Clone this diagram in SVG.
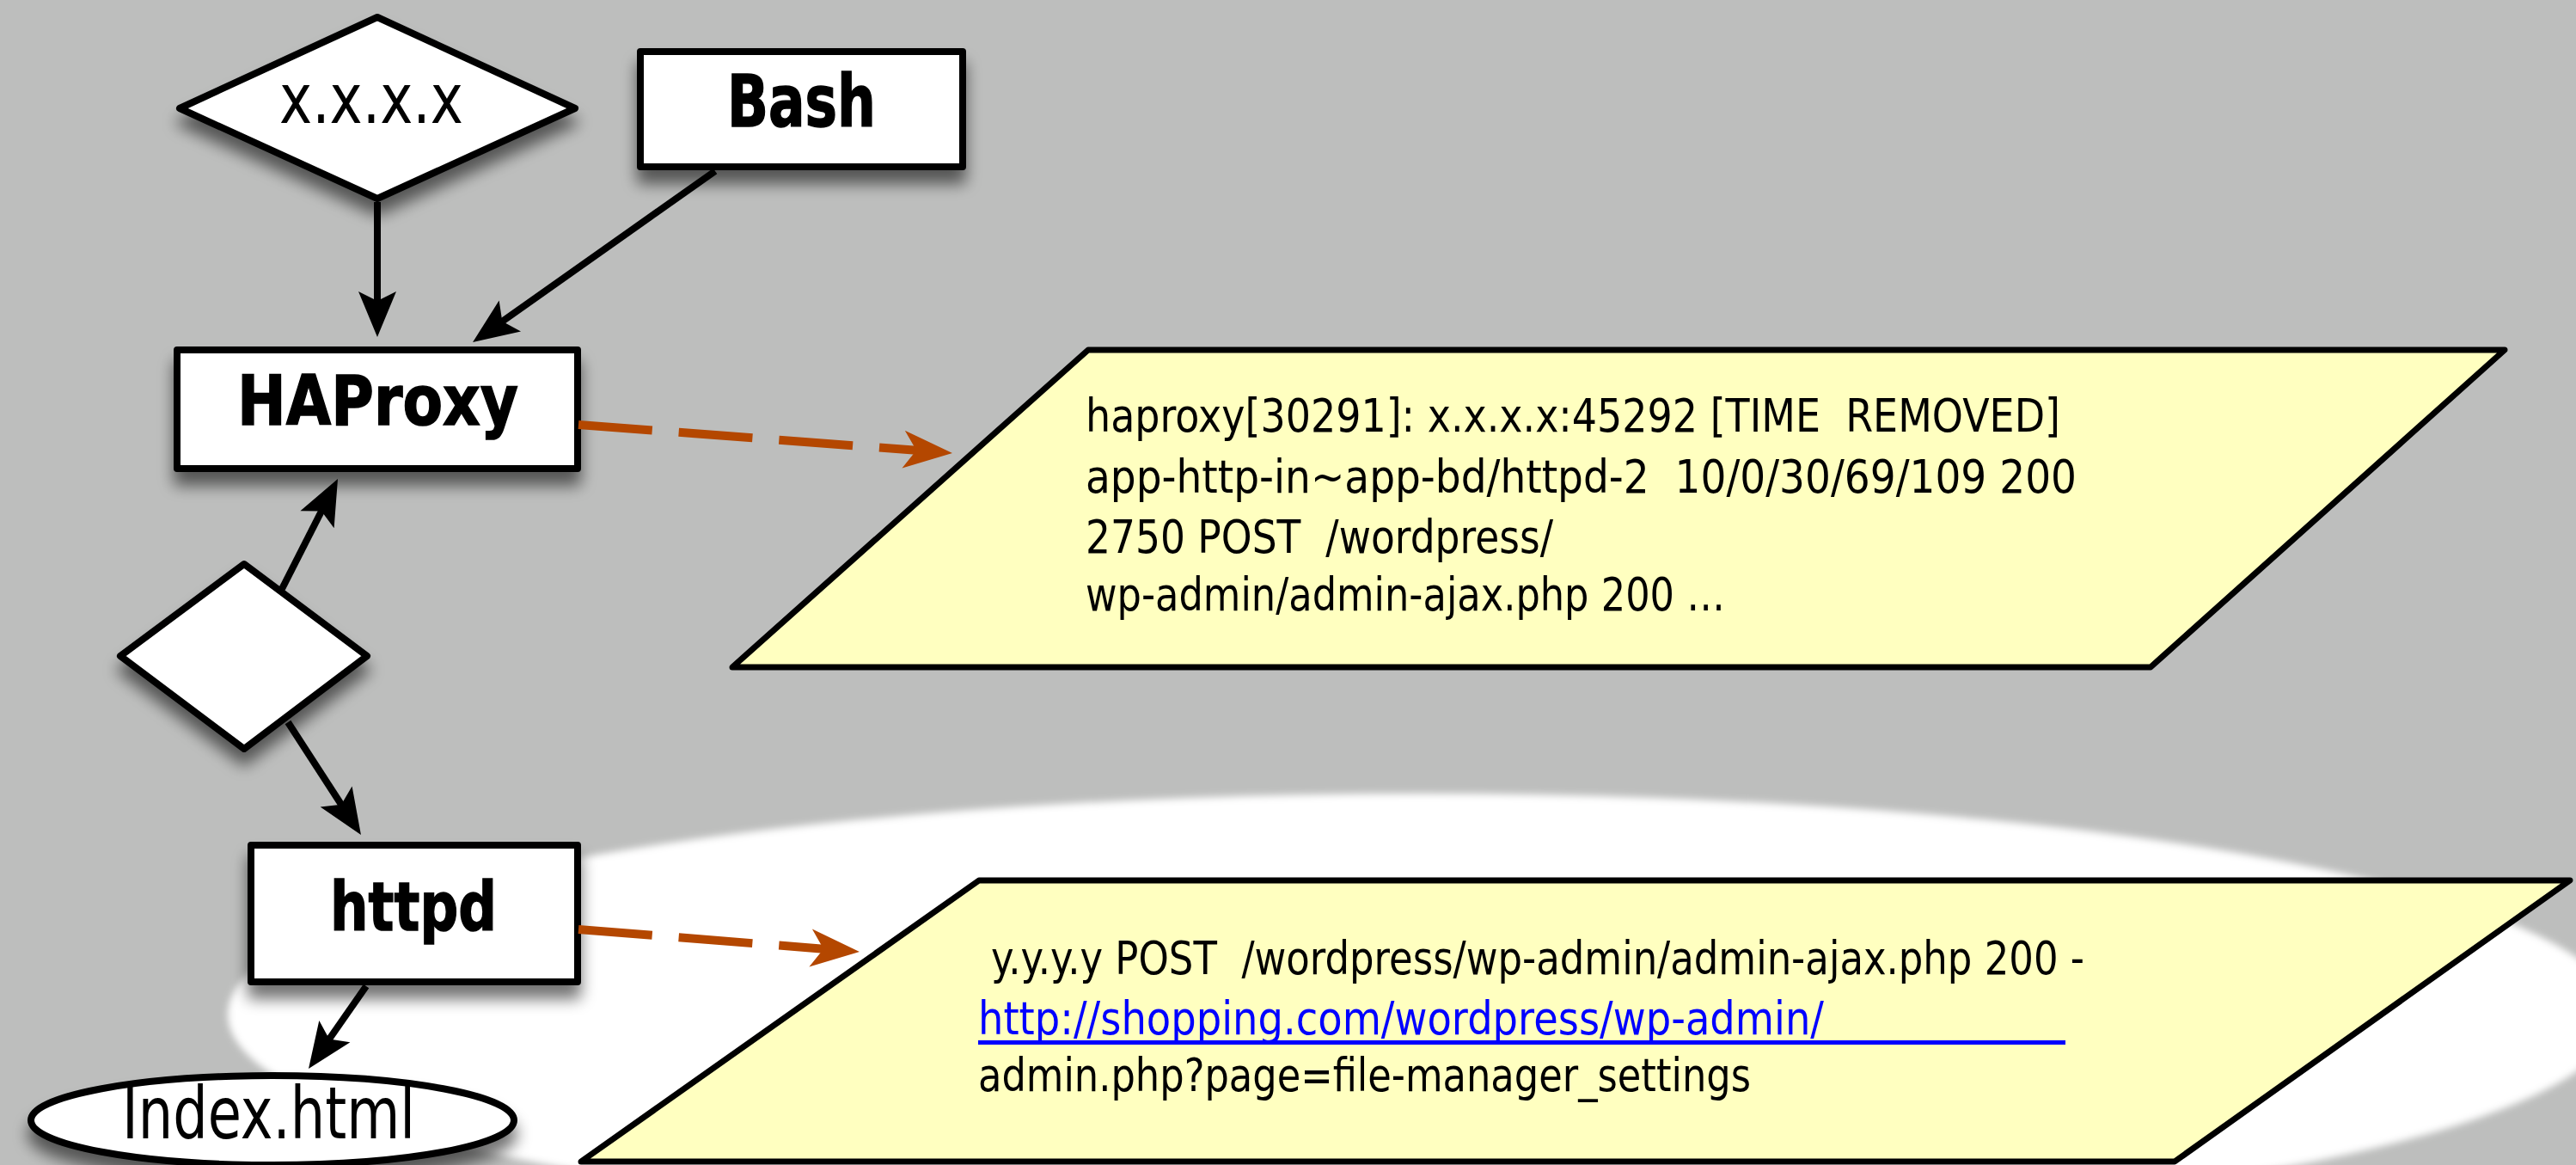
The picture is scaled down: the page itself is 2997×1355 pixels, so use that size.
<svg xmlns="http://www.w3.org/2000/svg" width="2997" height="1355" viewBox="0 0 2997 1355">
<style>
.bg{fill:#BDBEBD}
.node{fill:#FFFFFF;stroke:#000;stroke-width:8;stroke-linejoin:round}
.para{fill:#FFFFC0;stroke:#000;stroke-width:7;stroke-linejoin:round}
.lbl{font-family:"DejaVu Sans","Liberation Sans",sans-serif;fill:#000}
.b{font-weight:bold;stroke:#000;stroke-width:1.5}
.log{font-family:"DejaVu Sans","Liberation Sans",sans-serif;font-size:53px;fill:#000;white-space:pre}
.link{fill:#0000FF}
.conn{fill:none;stroke:#000;stroke-width:8}
.dash{fill:none;stroke:#B44700;stroke-width:10;stroke-dasharray:86 31}
</style>
<defs>
<filter id="sh" x="-25%" y="-40%" width="150%" height="200%">
<feGaussianBlur in="SourceAlpha" stdDeviation="9"/>
<feOffset dx="0" dy="16"/>
<feComponentTransfer><feFuncA type="linear" slope="0.55"/></feComponentTransfer>
<feMerge><feMergeNode/><feMergeNode in="SourceGraphic"/></feMerge>
</filter>
<filter id="soft" x="-5%" y="-5%" width="110%" height="110%">
<feGaussianBlur stdDeviation="4"/>
</filter>
<marker id="ah" markerUnits="userSpaceOnUse" orient="auto" refX="0" refY="0" markerWidth="120" markerHeight="120" viewBox="-60 -60 120 120" overflow="visible">
<path d="M 40 0 L -13 -22 L -2 0 L -13 22 Z" fill="#000"/>
</marker>
<marker id="ao" markerUnits="userSpaceOnUse" orient="auto" refX="0" refY="0" markerWidth="140" markerHeight="140" viewBox="-70 -70 140 140" overflow="visible">
<path d="M 42 0 L -15 -22 L 0 0 L -15 22 Z" fill="#B44700"/>
</marker>
</defs>

<rect class="bg" x="0" y="0" width="2997" height="1355"/>
<ellipse cx="1655" cy="1180" rx="1390" ry="257" fill="#FFFFFF" filter="url(#soft)"/>

<g id="node-ip">
<path class="node" filter="url(#sh)" d="M 209 126 L 439 20 L 669 126 L 439 231 Z"/>
<text class="lbl" x="325" y="143" font-size="80" textLength="214" lengthAdjust="spacingAndGlyphs">x.x.x.x</text>
</g>
<g id="node-bash">
<rect class="node" filter="url(#sh)" x="745" y="60" width="375" height="134"/>
<text class="lbl b" x="846" y="147" font-size="84" textLength="173" lengthAdjust="spacingAndGlyphs">Bash</text>
</g>
<g id="node-haproxy">
<rect class="node" filter="url(#sh)" x="206" y="407" width="466" height="138"/>
<text class="lbl b" x="276" y="494" font-size="80" textLength="327" lengthAdjust="spacingAndGlyphs">HAProxy</text>
</g>
<g id="node-decision">
<path class="node" filter="url(#sh)" d="M 140 763 L 284 656 L 427 763 L 284 871 Z"/>
</g>
<g id="node-httpd">
<rect class="node" filter="url(#sh)" x="292" y="983" width="380" height="159"/>
<text class="lbl b" x="384" y="1082" font-size="79" textLength="194" lengthAdjust="spacingAndGlyphs">httpd</text>
</g>
<g id="node-index">
<ellipse class="node" filter="url(#sh)" cx="317" cy="1303" rx="281" ry="52"/>
<text class="lbl" x="142" y="1324" font-size="84" textLength="341" lengthAdjust="spacingAndGlyphs">Index.html</text>
</g>
<g id="node-log-haproxy">
<path class="para" d="M 1266 407 L 2914 407 L 2502 776 L 852 776 Z"/>
<text class="log" x="1263" y="502" textLength="1134" lengthAdjust="spacingAndGlyphs" xml:space="preserve">haproxy[30291]: x.x.x.x:45292 [TIME  REMOVED]</text>
<text class="log" x="1263" y="573" textLength="1153" lengthAdjust="spacingAndGlyphs" xml:space="preserve">app-http-in~app-bd/httpd-2  10/0/30/69/109 200</text>
<text class="log" x="1263" y="643" textLength="544" lengthAdjust="spacingAndGlyphs" xml:space="preserve">2750 POST  /wordpress/</text>
<text class="log" x="1263" y="710" textLength="744" lengthAdjust="spacingAndGlyphs">wp-admin/admin-ajax.php 200 …</text>
</g>
<g id="node-log-httpd">
<path class="para" d="M 1139 1024 L 2990 1024 L 2530 1351 L 676 1351 Z"/>
<text class="log" x="1153" y="1133" textLength="1272" lengthAdjust="spacingAndGlyphs" xml:space="preserve">y.y.y.y POST  /wordpress/wp-admin/admin-ajax.php 200 -</text>
<text class="log link" x="1138" y="1203" textLength="984" lengthAdjust="spacingAndGlyphs">http://shopping.com/wordpress/wp-admin/</text>
<line x1="1138" y1="1212.5" x2="2403" y2="1212.5" stroke="#0000FF" stroke-width="5"/>
<text class="log" x="1138" y="1269" textLength="899" lengthAdjust="spacingAndGlyphs">admin.php?page=file-manager_settings</text>
</g>

<g id="connectors">
<line class="conn" x1="439" y1="235" x2="439" y2="352" marker-end="url(#ah)"/>
<line class="conn" x1="832" y1="199" x2="582.7" y2="374.9" marker-end="url(#ah)"/>
<line class="conn" x1="328" y1="685" x2="374.9" y2="592.7" marker-end="url(#ah)"/>
<line class="conn" x1="335" y1="840" x2="398.2" y2="937.5" marker-end="url(#ah)"/>
<line class="conn" x1="426" y1="1147" x2="381.9" y2="1210.2" marker-end="url(#ah)"/>
<line class="dash" x1="673" y1="494" x2="1066.1" y2="523.8" marker-end="url(#ao)"/>
<line class="dash" x1="673" y1="1081" x2="958.1" y2="1103.7" marker-end="url(#ao)"/>
</g>
</svg>
